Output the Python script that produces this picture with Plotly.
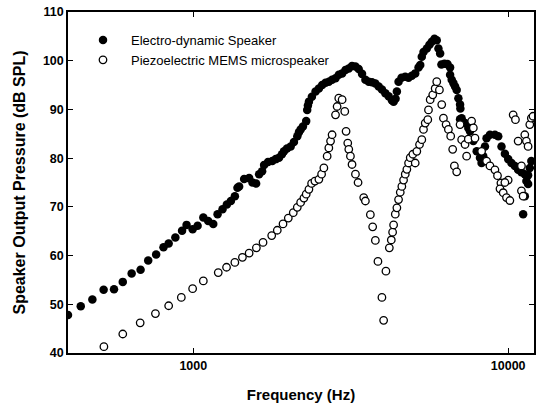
import plotly.graph_objects as go

# Electro-dynamic speaker (filled circles)
ED_FREQ = [400, 439, 478, 519, 560, 597, 637, 680, 719, 762, 804, 835, 877, 921, 952, 995,
           1032, 1076, 1115, 1157, 1194, 1238, 1278, 1316, 1355, 1381, 1398, 1450, 1504, 1541,
           1583, 1618, 1654, 1678, 1727, 1782, 1827, 1871, 1912, 1941, 1984, 2038, 2087, 2139,
           2165, 2192, 2229, 2283, 2300, 2312, 2329, 2380, 2445, 2505, 2566, 2630, 2694, 2759,
           2829, 2897, 2969, 3042, 3117, 3192, 3273, 3352, 3434, 3520, 3606, 3694, 3787, 3879,
           3973, 4072, 4172, 4273, 4326, 4389, 4431, 4486, 4585, 4710, 4825, 4943, 5067, 5191,
           5256, 5317, 5383, 5515, 5623, 5719, 5832, 5931, 6005, 6080, 6137, 6273, 6412, 6540,
           6540, 6617, 6699, 6782, 6862, 6948, 7034, 7050, 7034, 7116, 7294, 7472, 7565, 7751,
           7944, 8137, 8233, 8334, 8438, 8538, 8752, 9076, 9298, 9524, 9763, 10000, 10243,
           10501, 10755, 11018, 11292, 11568, 11712, 11846, 11425, 11568, 11292, 11156]
ED_SPL = [47.8, 49.6, 51.0, 53.0, 53.1, 54.6, 56.3, 57.1, 59.0, 60.2, 61.7, 62.5, 63.7, 65.1, 66.3, 65.4,
          66.1, 67.8, 67.1, 66.5, 68.5, 69.5, 70.5, 71.2, 72.2, 73.9, 74.2, 75.7, 75.9, 75.0,
          74.8, 76.7, 77.3, 78.6, 79.2, 79.4, 79.8, 80.1, 80.8, 81.4, 82.0, 82.4, 83.3, 84.5,
          85.3, 85.9, 86.5, 87.6, 89.9, 90.8, 91.6, 92.6, 93.7, 94.3, 95.0, 95.5, 95.7, 96.1,
          96.4, 97.1, 97.4, 98.1, 98.4, 98.9, 98.8, 98.3, 97.3, 96.1, 95.7, 95.6, 95.3, 94.7,
          94.1, 93.3, 92.7, 91.9, 91.6, 92.2, 93.7, 95.7, 96.5, 96.7, 96.5, 96.9, 97.4, 98.6,
          99.1, 100.8, 101.8, 102.5, 103.3, 103.9, 104.5, 104.2, 102.5, 101.5, 99.2, 99.4, 99.3, 98.6,
          97.1, 96.1, 95.4, 94.7, 94.0, 92.3, 91.0, 90.2, 88.0, 88.2, 87.2, 86.2, 85.5, 83.5,
          81.4, 80.1, 79.0, 80.4, 82.4, 84.1, 84.8, 84.8, 84.5, 82.4, 80.9, 79.8, 79.0,
          78.4, 77.6, 77.1, 76.7, 76.5, 78.0, 79.4, 75.3, 74.7, 72.2, 68.5]

# Piezoelectric MEMS microspeaker (open circles)
PZ_FREQ = [520, 597, 678, 758, 835, 916, 995, 1076, 1200, 1275, 1355, 1432, 1504, 1586, 1665,
           1774, 1848, 1927, 2003, 2077, 2139, 2192, 2245, 2283, 2329, 2375, 2433, 2505, 2555,
           2598, 2661, 2694, 2728, 2759, 2829, 2862, 2897, 2969, 3027, 3056, 3094, 3117, 3155,
           3192, 3273, 3336, 3477, 3520, 3650, 3712, 3786, 3858, 3972, 4022, 4090, 4193, 4254,
           4295, 4326, 4380, 4431, 4486, 4542, 4595, 4653, 4711, 4767, 4826, 4886, 4980, 5067,
           5127, 5229, 5317, 5383, 5451, 5555, 5583, 5653, 5760, 5862, 5931, 6048, 6151, 6228,
           6351, 6458, 6568, 6664, 6748, 6862, 7034, 7116, 7294, 7379, 7472, 7653, 7751, 7845,
           8233, 8538, 8752, 9076, 9248, 9482, 9418, 9643, 9877, 10124, 10000, 9763, 10371,
           10546, 10755, 11018, 11018, 11156, 11292, 11425, 11568, 11712, 11846, 11995]
PZ_SPL = [41.3, 43.9, 46.2, 48.1, 49.7, 51.4, 53.2, 54.8, 56.5, 57.6, 58.6, 59.65, 60.5, 61.6, 62.7,
          64.1, 65.2, 66.5, 67.7, 68.8, 69.9, 70.9, 71.8, 72.6, 73.6, 74.8, 75.3, 75.65, 76.7,
          78.0, 80.4, 82.1, 83.5, 84.8, 88.9, 90.6, 92.3, 92.0, 89.6, 85.5, 83.1, 81.8, 80.4,
          78.7, 76.7, 75.0, 71.9, 71.2, 68.4, 65.9, 63.1, 58.8, 51.4, 46.7, 56.8, 61.6, 63.2,
          64.8, 66.3, 68.5, 69.8, 71.5, 73.0, 74.2, 75.5, 76.7, 77.7, 79.0, 80.1, 80.8, 79.0,
          81.4, 82.8, 83.8, 85.9, 87.2, 87.9, 89.9, 92.0, 93.0, 94.3, 95.7, 94.0, 91.0, 88.2,
          86.9, 85.9, 84.5, 81.8, 78.4, 77.2, 86.9, 83.8, 82.8, 80.4, 83.9, 87.6, 86.2, 84.1,
          81.4, 79.4, 78.4, 77.6, 76.4, 74.9, 73.7, 72.9, 71.9, 71.3, 75.5, 75.0, 88.9,
          87.9, 83.5, 78.4, 73.3, 72.2, 84.8, 83.5, 82.4, 86.9, 88.2, 88.6]

X_TICKS = [1000, 10000]
X_TICK_TEXT = ["1000", "10000"]
Y_TICKS = [40, 50, 60, 70, 80, 90, 100, 110]

FONT = "Liberation Sans, Arial, Helvetica, sans-serif"

fig = go.Figure()
fig.add_trace(go.Scatter(
    x=ED_FREQ, y=ED_SPL, mode="markers", name="Electro-dynamic Speaker", legendgroup="ed",
    marker=dict(symbol="circle", size=8.5, color="black", line=dict(width=0)),
))
fig.add_trace(go.Scatter(
    x=PZ_FREQ, y=PZ_SPL, mode="markers", name="Piezoelectric MEMS microspeaker", legendgroup="pz",
    marker=dict(symbol="circle", size=7.5, color="white", line=dict(width=1.3, color="black")),
))

fig.update_layout(
    width=541, height=409,
    margin=dict(l=68, r=5, t=10, b=56),
    paper_bgcolor="white", plot_bgcolor="white",
    font=dict(family=FONT, color="black"),
    showlegend=True,
    legend=dict(x=0.015, y=0.962, xanchor="left", yanchor="top",
                bgcolor="rgba(0,0,0,0)", borderwidth=0,
                font=dict(size=13, family=FONT, color="black"),
                itemwidth=46, traceorder="grouped", tracegroupgap=0),
)
fig.update_xaxes(
    type="log", range=[2.602, 4.082],
    tickvals=X_TICKS, ticktext=X_TICK_TEXT,
    ticks="inside", ticklen=5, tickwidth=1, tickcolor="black",
    showline=True, linecolor="black", linewidth=1.5, mirror="allticks",
    showgrid=False, zeroline=False,
    tickfont=dict(size=12.5, family=FONT, color="black", weight="bold"),
    title=dict(text="<b>Frequency (Hz)</b>", font=dict(size=15, family=FONT, color="black"), standoff=18),
)
fig.update_yaxes(
    range=[40, 110], tickvals=Y_TICKS,
    ticks="inside", ticklen=5, tickwidth=1, tickcolor="black",
    showline=True, linecolor="black", linewidth=1.5, mirror="allticks",
    showgrid=False, zeroline=False,
    tickfont=dict(size=12.5, family=FONT, color="black", weight="bold"),
    title=dict(text="<b>Speaker Output Pressure (dB SPL)</b>", font=dict(size=16, family=FONT, color="black"), standoff=13),
)

fig.write_html("out.html")
